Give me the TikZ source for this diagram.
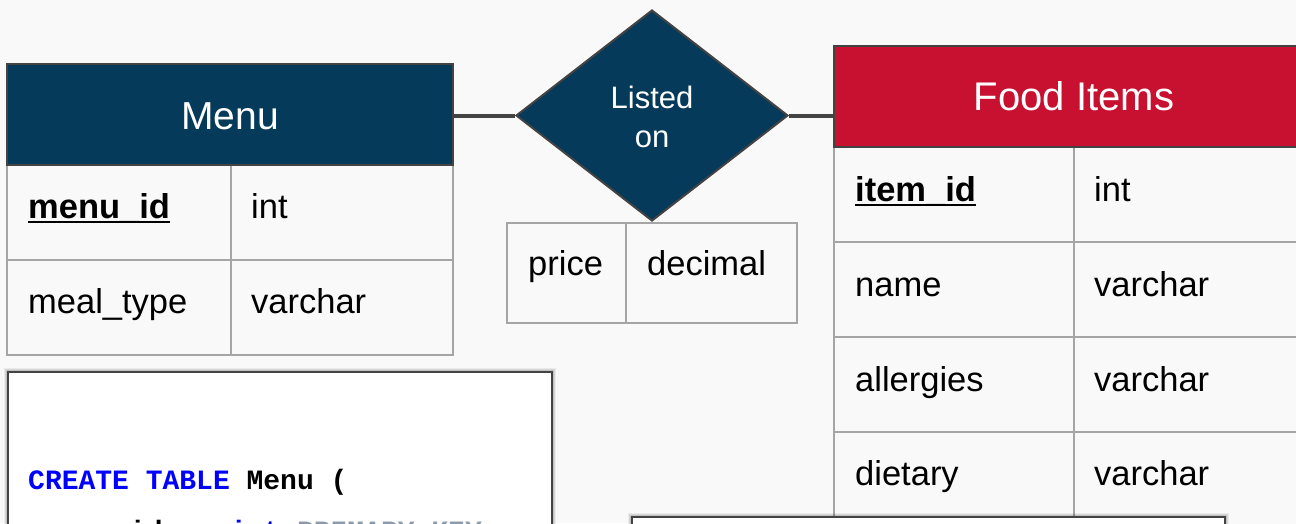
\documentclass[tikz,border=0pt]{standalone}
\usepackage{fontspec}
\setmainfont{Liberation Sans}
\newfontfamily\codefont{Liberation Mono}
\usetikzlibrary{shapes.geometric}
\definecolor{navy}{HTML}{063A5A}
\definecolor{crimson}{HTML}{C81030}
\definecolor{hdredge}{HTML}{434343}
\definecolor{celledge}{HTML}{A5A5A5}
\definecolor{pagebg}{HTML}{F9F9F9}
\definecolor{kwblue}{HTML}{0000FF}
\definecolor{kwgray}{HTML}{8C9BAB}
\newcommand\cellfnt{\fontsize{34.5}{40}\selectfont}
\newcommand\codefnt{\codefont\bfseries\fontsize{28}{34}\selectfont}
\tikzset{
  hdrbox/.style={draw=hdredge, line width=2.5pt, inner sep=0pt},
  cellbox/.style={draw=celledge, line width=2pt},
  conn/.style={draw=hdredge, line width=4pt},
  celltxt/.style={anchor=base west, inner sep=0pt, font=\cellfnt, text=black},
  keytxt/.style={celltxt, font=\cellfnt\bfseries},
  titletxt/.style={anchor=base, inner sep=0pt, text=white},
  codetxt/.style={anchor=base west, inner sep=0pt, font=\codefnt},
  codebox/.style={fill=white, draw=hdredge, line width=2pt},
  uline/.style={line width=2.5pt, black}
}
\begin{document}
\begin{tikzpicture}[x=1pt,y=-1pt]
\useasboundingbox (0,0) rectangle (1296,523);
\clip (0,0) rectangle (1296,523);
\fill[pagebg] (0,0) rectangle (1296,523);

% ---------- Food Items table ----------
\foreach \t/\b in {147/242,242/337,337/432,432/527}{
  \draw[cellbox, fill=pagebg] (834,\t) rectangle (1074,\b);
  \draw[cellbox, fill=pagebg] (1074,\t) rectangle (1320,\b);
}
\node[hdrbox, fill=crimson, minimum width=486pt, minimum height=101pt] (foodhdr) at (1077,96.5) {};
\node[titletxt, font=\fontsize{40}{46}\selectfont] (foodtitle) at (1074,110) {Food Items};
\node[keytxt] (itemid) at (855,201) {item\_id};
\draw[uline] ([yshift=-4pt]itemid.base west) -- ([yshift=-4pt]itemid.base east);
\node[celltxt] (itemidt) at (1094,201) {int};
\node[celltxt] (fname) at (855,296) {name};
\node[celltxt] (fnamet) at (1094,296) {varchar};
\node[celltxt] (fall) at (855,391) {allergies};
\node[celltxt] (fallt) at (1094,391) {varchar};
\node[celltxt] (fdiet) at (855,485) {dietary};
\node[celltxt] (fdiett) at (1094,485) {varchar};

% ---------- Menu table ----------
\foreach \t/\b in {165/260,260/355}{
  \draw[cellbox, fill=pagebg] (7,\t) rectangle (231,\b);
  \draw[cellbox, fill=pagebg] (231,\t) rectangle (453,\b);
}
\node[hdrbox, fill=navy, minimum width=446pt, minimum height=101pt] (menuhdr) at (230,114.5) {};
\node[titletxt, font=\fontsize{39}{45}\selectfont] (menutitle) at (230,129) {Menu};
\node[keytxt] (menuid) at (28,218) {menu\_id};
\draw[uline] ([yshift=-4pt]menuid.base west) -- ([yshift=-4pt]menuid.base east);
\node[celltxt] (menuidt) at (251,218) {int};
\node[celltxt] (meal) at (28,313) {meal\_type};
\node[celltxt] (mealt) at (251,313) {varchar};

% ---------- price attribute table ----------
\draw[cellbox, fill=pagebg] (507,223) rectangle (626,323);
\draw[cellbox, fill=pagebg] (626,223) rectangle (797,323);
\node[celltxt] (price) at (528,275) {price};
\node[celltxt] (pricet) at (647,275) {decimal};

% ---------- relationship ----------
\node[diamond, fill=navy, draw=hdredge, line width=2pt, inner sep=0pt,
      minimum width=272pt, minimum height=211pt] (rel) at (652,115.5) {};
\node[titletxt, font=\fontsize{31}{36}\selectfont] (rell1) at (652,108) {Listed};
\node[titletxt, font=\fontsize{31}{36}\selectfont] (rell2) at (652,147) {on};

\draw[conn] (menuhdr.east |- rel.west) -- (rel.west);
\draw[conn] (rel.east) -- (rel.east -| foodhdr.west);

% ---------- code box 1 ----------
\foreach \e/\o in {4/0.06,3/0.08,2/0.1,1/0.12}{
  \fill[black, opacity=\o] (8-\e,372-\e) rectangle (552+\e,545);
}
\draw[codebox] (8,372) rectangle (552,545);
\node[codetxt] (c1) at (28,489) {\textcolor{kwblue}{CREATE TABLE} Menu (};
\node[codetxt] (c2a) at (44.8,540) {menu\_id};
\node[codetxt, text=kwblue] (c2b) at (229.6,540) {int};
\node[codetxt, text=kwgray] (c2c) at (296.8,540) {PRIMARY KEY,};

% ---------- code box 2 ----------
\foreach \e/\o in {4/0.06,3/0.08,2/0.1,1/0.12}{
  \fill[black, opacity=\o] (632-\e,517-\e) rectangle (1225+\e,545);
}
\draw[codebox] (632,517) rectangle (1225,545);
\end{tikzpicture}
\end{document}
